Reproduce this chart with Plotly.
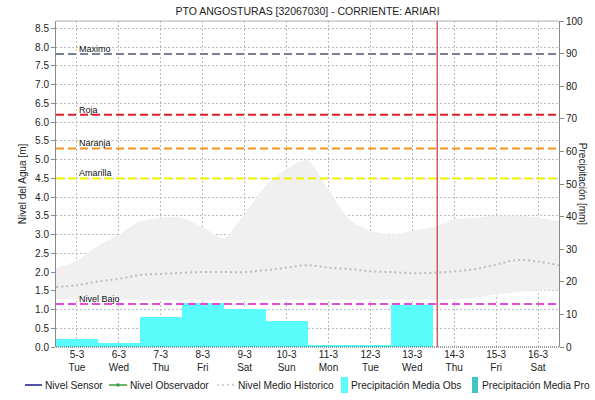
import plotly.graph_objects as go
import pandas as pd

# Daily precipitation (mm) per day
days = pd.date_range("2024-03-05", "2024-03-16", freq="D")
precip_days = ["2024-03-05", "2024-03-06", "2024-03-07", "2024-03-08", "2024-03-09",
               "2024-03-10", "2024-03-11", "2024-03-12", "2024-03-13"]
precip_obs = [2.4, 1.1, 9.3, 13.4, 11.7, 8.1, 0.6, 0.6, 12.9]

# Historic band (m) sampled every 12 hours
band_times = pd.date_range("2024-03-04 12:00", "2024-03-16 12:00", freq="12h")
band_upper = [2.1, 2.3, 2.7, 3.0, 3.35, 3.45, 3.45, 3.2, 2.9, 3.55, 4.3, 4.75, 5.0,
              4.2, 3.4, 3.1, 3.0, 3.1, 3.2, 3.4, 3.45, 3.5, 3.5, 3.45, 3.35]
band_lower = [1.28, 1.27, 1.26, 1.25, 1.25, 1.25, 1.25, 1.25, 1.25, 1.25, 1.25, 1.25, 1.25,
              1.25, 1.25, 1.25, 1.25, 1.25, 1.25, 1.27, 1.32, 1.4, 1.47, 1.5, 1.52]
hist_mean = [1.6, 1.65, 1.75, 1.82, 1.92, 1.95, 1.98, 2.0, 2.0, 2.0, 2.05, 2.12, 2.18,
             2.12, 2.08, 2.02, 2.0, 1.97, 1.98, 2.02, 2.08, 2.2, 2.32, 2.28, 2.18]

# Alert thresholds (m)
threshold_names = ["Maximo", "Roja", "Naranja", "Amarilla", "Nivel Bajo"]
threshold_values = [7.82, 6.2, 5.3, 4.5, 1.15]
threshold_colors = ["#7b7e9a", "#dc1f2a", "#f7931e", "#f2f200", "#e848e0"]

tick_labels = [f"{d.day}-{d.month}<br>{d.strftime('%a')}" for d in days]
now_time = "2024-03-13 14:15"

FONT = "Liberation Sans, Arial, sans-serif"
TXT = "#222222"

fig = go.Figure()

# Historic range band
fig.add_trace(go.Scatter(x=band_times, y=band_lower, mode="lines",
                         line=dict(width=0), hoverinfo="skip", showlegend=False))
fig.add_trace(go.Scatter(x=band_times, y=band_upper, mode="lines", fill="tonexty",
                         fillcolor="#f0f0f0", line=dict(width=0, shape="spline", smoothing=0.6),
                         showlegend=False))
# Historic mean level
fig.add_trace(go.Scatter(x=band_times, y=hist_mean, mode="lines",
                         line=dict(color="#bcbcbc", width=2, dash="2px,3px", shape="spline"),
                         name="Nivel Medio Historico", showlegend=False))

# Precipitation bars on the right axis
fig.add_trace(go.Bar(x=pd.to_datetime(precip_days), y=precip_obs, yaxis="y2",
                     width=86400000, marker=dict(color="#5bfcfc", line=dict(width=0)),
                     name="Precipitación Media Obs", showlegend=False))

shapes = []
annotations = []

# Threshold lines with labels
for name, val, col in zip(threshold_names, threshold_values, threshold_colors):
    shapes.append(dict(type="line", xref="paper", x0=0, x1=1, yref="y", y0=val, y1=val,
                       line=dict(color=col, width=2, dash="8px,4px"), layer="above"))
    annotations.append(dict(text=name, x=days[0], xref="x", y=val, yref="y",
                            xanchor="left", yanchor="bottom", showarrow=False,
                            yshift=-2, font=dict(size=9, color="#111", family=FONT)))

# Current time marker
shapes.append(dict(type="line", xref="x", x0=now_time, x1=now_time, yref="paper", y0=0, y1=1,
                   line=dict(color="#c0101a", width=1), layer="above"))
# Bottom axis line
shapes.append(dict(type="line", xref="paper", x0=0, x1=1, yref="paper", y0=0, y1=0,
                   line=dict(color="#444", width=1, dash="1px,1px"), layer="above"))
# Plot frame: top border
shapes.append(dict(type="line", xref="paper", x0=0, x1=1, yref="paper", y0=1, y1=1,
                   line=dict(color="#aaaaaa", width=1), layer="above"))

# Right axis title (reads top to bottom)
annotations.append(dict(text="Precipitación [mm]", xref="paper", x=1.048, yref="paper", y=0.5,
                        textangle=90, showarrow=False, xanchor="center", yanchor="middle",
                        font=dict(size=10, color=TXT, family=FONT)))

# Legend row
W, H, L, T = 503.0, 326.0, 56.0, 21.0
def px(xp):
    return (xp - L) / W
def py(yp):
    return (T + H - yp) / H

ly = 385
legend_items = [
    ("line", 25, 42, "#1a1a8c", "solid", "Nivel Sensor", 43),
    ("marker", 109, 127, "#3f9f3f", "solid", "Nivel Observador", 128),
    ("line", 217, 235, "#c8c8c8", "2px,3px", "Nivel Medio Historico", 236),
    ("box", 341, 348, "#5bfcfc", None, "Precipitación Media Obs", 349),
    ("box", 472, 478, "#40c4c4", None, "Precipitación Media Pro", 480),
]
for kind, x0, x1, col, dash, label, tx in legend_items:
    if kind == "box":
        shapes.append(dict(type="rect", xref="paper", yref="paper",
                           x0=px(x0), x1=px(x1), y0=py(393), y1=py(377),
                           fillcolor=col, line=dict(width=0)))
    else:
        shapes.append(dict(type="line", xref="paper", yref="paper",
                           x0=px(x0), x1=px(x1), y0=py(ly), y1=py(ly),
                           line=dict(color=col, width=1.5, dash=dash)))
        if kind == "marker":
            shapes.append(dict(type="rect", xref="paper", yref="paper",
                               x0=px(116.5), x1=px(119.5), y0=py(386.5), y1=py(383.5),
                               fillcolor=col, line=dict(width=0)))
    annotations.append(dict(text=label, xref="paper", yref="paper", x=px(tx), y=py(ly),
                            xanchor="left", yanchor="middle", showarrow=False,
                            font=dict(size=10.2, color=TXT, family=FONT)))

fig.update_layout(
    width=595, height=400,
    margin=dict(l=56, r=36, t=21, b=53, pad=0),
    paper_bgcolor="white", plot_bgcolor="white",
    font=dict(family=FONT, size=10, color=TXT),
    title=dict(text="PTO ANGOSTURAS [32067030] - CORRIENTE: ARIARI",
               x=(L + W / 2) / 595, xanchor="center", y=1 - 11 / 400, yanchor="middle",
               font=dict(size=10.5, color=TXT, family=FONT)),
    showlegend=False,
    bargap=0,
    xaxis=dict(type="date", range=["2024-03-04 12:00", "2024-03-16 12:00"],
               tickvals=days, ticktext=tick_labels, ticks="",
               showgrid=True, gridcolor="#bdbdbd", griddash="2px,2px", gridwidth=1,
               showline=False, zeroline=False, tickfont=dict(size=10)),
    yaxis=dict(range=[0, 8.7], dtick=0.5, tickformat=".1f",
               showgrid=True, gridcolor="#bdbdbd", griddash="2px,2px", gridwidth=1,
               showline=True, linecolor="#8a8a8a", linewidth=1,
               ticks="outside", ticklen=4, tickcolor="#8a8a8a",
               zeroline=False, tickfont=dict(size=10),
               title=dict(text="Nivel del Agua [m]", standoff=6, font=dict(size=10))),
    yaxis2=dict(range=[0, 100], dtick=10, overlaying="y", side="right",
                showgrid=False, showline=True, linecolor="#8a8a8a", linewidth=1,
                ticks="outside", ticklen=4, tickcolor="#8a8a8a",
                zeroline=False, tickfont=dict(size=10)),
    shapes=shapes,
    annotations=annotations,
)

fig.write_html("out.html")
